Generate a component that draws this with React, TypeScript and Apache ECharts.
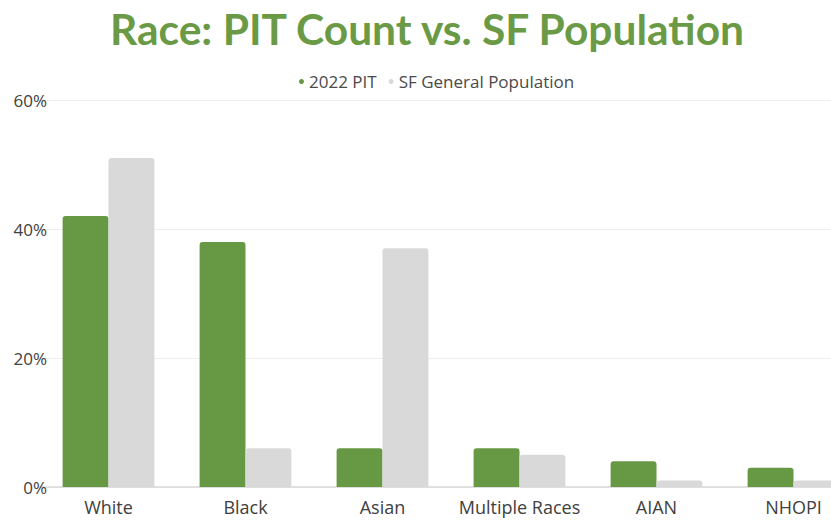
import React, { useEffect, useRef } from "react";
import * as echarts from "echarts";

const categories = ["White", "Black", "Asian", "Multiple Races", "AIAN", "NHOPI"];
const pit2022 = [42, 38, 6, 6, 4, 3];
const sfPopulation = [51, 6, 37, 5, 1, 1];
const yTicks = [0, 20, 40, 60];

export default function App() {
  const ref = useRef<HTMLDivElement>(null);
  useEffect(() => {
    if (!ref.current) return;
    const chart = echarts.init(ref.current, null, { renderer: "svg" });
    chart.setOption({
      animation: false,
      backgroundColor: "#ffffff",
      title: {
        text: "Race: PIT Count vs. SF Population",
        left: 422,
        textAlign: "center",
        top: 2,
        textStyle: {
          fontFamily: "Lato",
          fontWeight: "bold",
          fontSize: 42.5,
          color: "#6a9a45",
        },
      },
      legend: {
        top: 68,
        left: 294,
        itemWidth: 5,
        itemHeight: 5,
        itemGap: 12,
        icon: "circle",
        textStyle: { fontFamily: "Open Sans", fontSize: 17, color: "#4a4a4a" },
        data: ["2022 PIT", "SF General Population"],
      },
      grid: {
        left: 40,
        width: 822,
        top: 100,
        height: 387,
        containLabel: false,
        outerBoundsMode: "none",
      },
      xAxis: {
        type: "category",
        data: categories,
        axisTick: { show: false },
        axisLine: { lineStyle: { color: "#d9d9d9", width: 1.5 } },
        axisLabel: {
          interval: 0,
          fontFamily: "Open Sans",
          fontSize: 18,
          color: "#404040",
          margin: 11,
        },
      },
      yAxis: {
        type: "value",
        min: 0,
        max: 60,
        interval: 20,
        axisLabel: {
          formatter: (v: number) => (yTicks.includes(v) ? v + "%" : ""),
          fontFamily: "Open Sans",
          fontSize: 17,
          color: "#404040",
          margin: -7,
        },
        splitLine: { lineStyle: { color: "#eeeeee", width: 1 } },
      },
      series: [
        {
          name: "2022 PIT",
          type: "bar",
          data: pit2022,
          barGap: "0%",
          barCategoryGap: "33%",
          itemStyle: { color: "#679843", borderRadius: [3, 3, 0, 0] },
        },
        {
          name: "SF General Population",
          type: "bar",
          data: sfPopulation,
          itemStyle: { color: "#d9d9d9", borderRadius: [3, 3, 0, 0] },
        },
      ],
    });
    return () => chart.dispose();
  }, []);
  return <div ref={ref} style={{ width: 831, height: 520, position: "absolute", left: 0, top: 0 }} />;
}
